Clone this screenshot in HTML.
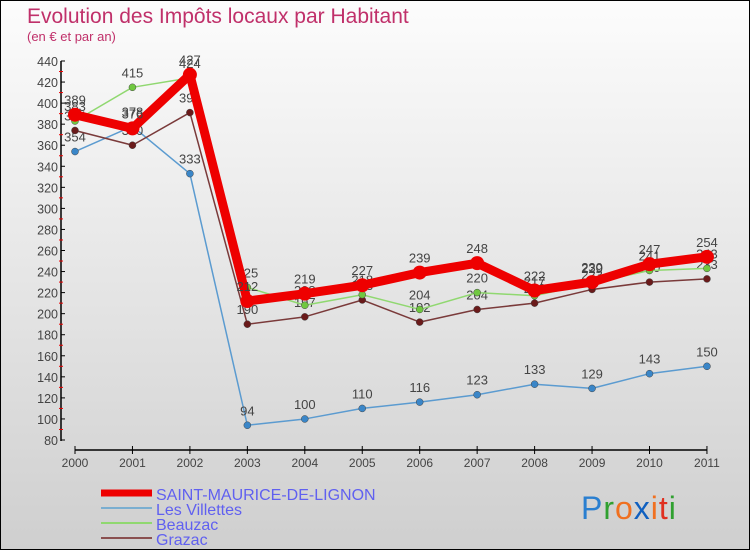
<!DOCTYPE html>
<html><head><meta charset="utf-8"><style>
body{margin:0;width:750px;height:550px;overflow:hidden;font-family:"Liberation Sans",sans-serif}
#wrap{position:relative;width:748px;height:548px;border:1px solid #000;background:linear-gradient(#fcfcfc,#e6e6e6 50%,#cfcfcf)}
</style></head><body>
<div id="wrap">
<svg id="chart" width="748" height="548" style="position:absolute;left:0;top:0"></svg>
</div>
<script>
const years=["2000","2001","2002","2003","2004","2005","2006","2007","2008","2009","2010","2011"];
const smdl=[389,376,427,212,219,227,239,248,222,230,247,254];
const villettes=[354,378,333,94,100,110,116,123,133,129,143,150];
const beauzac=[383,415,424,225,208,218,204,220,217,229,241,243];
const grazac=[374,360,391,190,197,213,192,204,210,223,230,233];
const yTicks=[80,100,120,140,160,180,200,220,240,260,280,300,320,340,360,380,400,420,440];
const NS="http://www.w3.org/2000/svg";
const svg=document.getElementById('chart');
const xs=i=>74+i*57.45;
const ys=v=>439-(v-80)*(379/360);
function mk(t,a,txt){const e=document.createElementNS(NS,t);for(const k in a)e.setAttribute(k,a[k]);if(txt!==undefined)e.textContent=txt;svg.appendChild(e);return e;}
let e;
e=mk('text',{x:26,y:22,'font-size':21,fill:'#c0306a'},'Evolution des Impôts locaux par Habitant');

e=mk('text',{x:26,y:40,'font-size':13,fill:'#c0306a'},'(en € et par an)');

e=mk('line',{x1:60,y1:60,x2:60,y2:440,stroke:'#000','stroke-width':1.5});

yTicks.forEach((v,i)=>{
 mk('line',{x1:60,y1:ys(v),x2:64,y2:ys(v),stroke:'#000'});
 if(i<yTicks.length-1)mk('line',{x1:58,y1:ys(v+10),x2:62,y2:ys(v+10),stroke:'#e00'});
 e=mk('text',{x:57,y:ys(v)+5,'font-size':12.5,fill:'#444','text-anchor':'end'},v);
 
});
e=mk('line',{x1:xs(0),y1:449,x2:xs(11),y2:449,stroke:'#000','stroke-width':1.5});

years.forEach((y,i)=>{
 mk('line',{x1:xs(i),y1:445,x2:xs(i),y2:453,stroke:'#000'});
 e=mk('text',{x:xs(i),y:466,'font-size':12,fill:'#444','text-anchor':'middle'},y);
 
});
const series=[
 {d:villettes,c:'#5b9bd0',p:'#3a86c8',w:1.5,r:3.5,n:'les-villettes'},
 {d:grazac,c:'#7a3a3a',p:'#6a1a1a',w:1.5,r:3.5,n:'grazac'},
 {d:beauzac,c:'#90d870',p:'#70c840',w:1.5,r:3.5,n:'beauzac'},
 {d:smdl,c:'#ee0000',p:'#ee0000',w:9,r:7,n:'saint-maurice-de-lignon'}];
series.forEach(s=>{
 e=mk('polyline',{points:s.d.map((v,i)=>xs(i)+','+ys(v)).join(' '),fill:'none',stroke:s.c,'stroke-width':s.w,'stroke-linejoin':'round'});
 
 s.d.forEach((v,i)=>{
  e=mk('circle',{cx:xs(i),cy:ys(v),r:s.r,fill:s.p,stroke:s.w>5?'none':'#444','stroke-width':0.5});
  
  e=mk('text',{x:xs(i),y:ys(v)-10,'font-size':13,fill:'#444','text-anchor':'middle'},v);
  
 });
});
const leg=[['SAINT-MAURICE-DE-LIGNON','#ee0000',7],['Les Villettes','#7aaed0',2],['Beauzac','#90d870',2],['Grazac','#8a5050',2]];
leg.forEach((l,i)=>{
 const y=492+i*15;
 e=mk('line',{x1:100,y1:y,x2:151,y2:y,stroke:l[1],'stroke-width':l[2]});
 
 e=mk('text',{x:155,y:y+7,'font-size':16,fill:'#6060f0'},l[0]);
 
});
e=mk('text',{x:580,y:518,'font-size':32,'letter-spacing':'1'});

[['P','#2a7fd0'],['r','#30a030'],['o','#f07020'],['x','#1060c0'],['i','#f07020'],['t','#e03020'],['i','#30a030']].forEach(p=>{const t=document.createElementNS(NS,'tspan');t.setAttribute('fill',p[1]);t.textContent=p[0];e.appendChild(t);});
</script>
</body></html>
